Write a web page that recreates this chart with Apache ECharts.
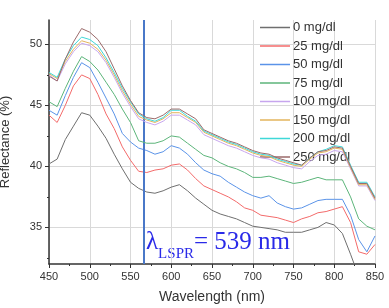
<!DOCTYPE html>
<html><head><meta charset="utf-8">
<script src="https://cdn.jsdelivr.net/npm/echarts@6/dist/echarts.min.js"></script>
<style>html,body{margin:0;padding:0;background:#fff}#c{width:389px;height:308px}</style>
</head><body><div id="c"></div>
<script>
const wavelengths = [450,460,470,480,490,500,510,520,530,540,550,560,570,580,590,600,610,620,630,640,650,660,670,680,690,700,710,720,730,740,750,760,770,780,790,800,810,820,830,840,850];
const seriesNames = ['0 mg/dl','25 mg/dl','50 mg/dl','75 mg/dl','100 mg/dl','150 mg/dl','200 mg/dl','250 mg/dl'];
const r0   = [40.2,40.6,42.2,43.3,44.4,44.2,43.3,42.3,41.0,39.8,38.7,38.2,37.9,37.8,38.0,38.3,38.5,38.0,37.4,36.9,36.4,36.1,35.9,35.7,35.4,35.1,35.0,34.9,34.8,34.6,34.6,34.6,34.8,35.0,35.4,35.2,34.5,32.8,31.0,31.0,31.0];
const r25  = [44.2,43.6,45.0,46.6,47.5,47.2,45.9,44.3,43.1,41.6,40.5,39.6,39.5,39.7,39.8,40.1,40.2,39.7,39.0,38.4,38.1,37.8,37.5,37.1,36.6,36.4,36.0,35.9,35.8,35.6,35.4,35.7,35.9,36.2,36.3,36.5,36.7,35.4,33.0,32.8,33.6];
const r50  = [44.6,44.2,45.8,47.3,48.5,48.1,46.9,45.6,44.3,42.7,42.0,41.5,41.3,41.0,41.2,41.7,41.5,41.0,40.3,39.7,39.4,39.2,38.7,38.3,37.9,37.6,37.4,37.6,37.0,36.7,36.5,36.6,36.9,37.2,37.3,37.3,37.3,36.0,34.0,33.0,34.3];
const r75  = [45.3,44.9,46.4,47.8,49.0,48.6,47.9,46.9,45.9,44.7,43.6,42.1,41.9,41.9,42.1,42.5,42.4,41.9,41.4,40.9,40.7,40.3,40.0,39.8,39.5,39.1,39.1,39.2,39.0,38.8,38.6,38.7,38.9,39.1,38.9,38.9,38.9,37.5,35.7,35.1,34.8];
const r100 = [47.5,47.0,48.4,49.4,50.1,49.9,49.4,48.5,47.3,46.0,44.9,43.9,43.6,43.4,43.7,44.2,44.2,43.8,43.4,42.6,42.3,42.0,41.7,41.5,41.2,40.9,40.7,40.6,40.3,40.1,39.9,39.8,40.4,40.9,41.0,41.3,41.2,39.8,38.4,38.4,37.2];
const r150 = [47.6,47.2,48.6,49.6,50.3,50.1,49.6,48.7,47.5,46.2,45.1,44.1,43.8,43.6,43.9,44.4,44.4,44.0,43.6,42.8,42.5,42.2,41.9,41.7,41.4,41.1,40.9,40.8,40.5,40.3,40.1,40.0,40.6,41.1,41.2,41.5,41.4,39.9,38.5,38.5,37.3];
const r200 = [47.7,47.3,48.8,49.9,50.6,50.4,49.9,48.9,47.7,46.4,45.3,44.3,43.9,43.7,44.0,44.6,44.6,44.1,43.7,42.9,42.6,42.3,42.0,41.8,41.5,41.2,41.0,40.9,40.6,40.4,40.2,40.1,40.7,41.2,41.4,41.7,41.6,40.1,38.7,38.7,37.5];
const r250 = [47.4,47.0,48.8,50.2,51.3,51.0,50.4,49.4,48.0,46.6,45.4,44.4,44.0,43.9,44.2,44.7,44.7,44.3,43.9,43.0,42.7,42.4,42.1,41.9,41.6,41.3,41.1,41.0,40.7,40.5,40.3,40.1,40.7,41.2,41.3,41.6,41.5,40.0,38.6,38.6,37.4];
const yTicks = [35,40,45,50];
const yMinorTicks = [32.5,37.5,42.5,47.5];
const markerWavelength = 566;
const colors = ['#6f6f6f','#f36a6a','#5a93e8','#5cb57a','#c7a6ee','#e3b45c','#3fd8d8','#9a6a6a'];
const allData = [r0,r25,r50,r75,r100,r150,r200,r250];

const chart = echarts.init(document.getElementById('c'));
const series = allData.map((d,i)=>({
  name: seriesNames[i], type:'line', symbol:'none', clip:true,
  data: wavelengths.map((w,j)=>[w,d[j]]),
  lineStyle:{width:1,color:colors[i]}, itemStyle:{color:colors[i]},
  z: 2+i
}));
series[0].markLine = {
  silent:true, symbol:'none', label:{show:false},
  lineStyle:{color:'#4a78c8',width:2,type:'solid'},
  data:[{xAxis:markerWavelength}]
};
const axisFont = {fontFamily:'Liberation Sans, Arial, sans-serif', fontSize:11, color:'#333'};
chart.setOption({
  animation:false,
  grid:{left:49,right:14,top:20,bottom:44,containLabel:false,outerBoundsMode:'none'},
  legend:{
    orient:'vertical', left:255, top:16, itemWidth:30, itemHeight:10, itemGap:5.5,
    icon:'path://M0,4 L30,4 L30,5.5 L0,5.5 Z',
    textStyle:{fontFamily:'Liberation Sans, Arial, sans-serif', fontSize:13, color:'#333', padding:[0,0,0,-2]},
    data: seriesNames
  },
  xAxis:{
    type:'value', min:450, max:850, interval:50,
    name:'Wavelength (nm)', nameLocation:'middle', nameGap:26,
    nameTextStyle:{fontFamily:'Liberation Sans, Arial, sans-serif', fontSize:14, color:'#333'},
    axisLine:{onZero:false, lineStyle:{color:'#333',width:1.5}},
    axisTick:{show:true,inside:false,length:4,lineStyle:{color:'#333'}},
    minorTick:{show:true,splitNumber:2,length:2,lineStyle:{color:'#333'}},
    axisLabel:Object.assign({margin:7},axisFont),
    splitLine:{show:true,lineStyle:{color:'#d9d9d9',width:1}}
  },
  yAxis:[{
    type:'value', min:32, max:52,
    name:'Reflectance (%)', nameLocation:'middle', nameGap:37,
    nameTextStyle:{fontFamily:'Liberation Sans, Arial, sans-serif', fontSize:13, color:'#333'},
    axisLine:{show:true,onZero:false,lineStyle:{color:'#333',width:1.5}},
    axisTick:{show:true,length:4,customValues:yTicks,lineStyle:{color:'#333'}},
    axisLabel:Object.assign({customValues:yTicks,margin:7},axisFont),
    splitLine:{show:true,lineStyle:{color:'#d9d9d9',width:1}}
  },{
    type:'value', min:32, max:52, position:'left', offset:0,
    axisLine:{show:false},
    axisTick:{show:true,length:2,customValues:yMinorTicks,lineStyle:{color:'#333'}},
    axisLabel:{show:false},
    splitLine:{show:false}
  }],
  graphic:[{
    type:'text', left:146, top:230, silent:true,
    style:{
      text:'{a|λ}{s|LSPR}{a|= 539 nm}',
      rich:{
        a:{fontFamily:'Liberation Serif, DejaVu Serif, serif', fontSize:25, fill:'#2a2ae8', verticalAlign:'bottom'},
        s:{fontFamily:'Liberation Serif, DejaVu Serif, serif', fontSize:15, fill:'#2a2ae8', padding:[0,0,-7,0], verticalAlign:'bottom'}
      }
    }
  }],
  series: series
});
</script></body></html>
